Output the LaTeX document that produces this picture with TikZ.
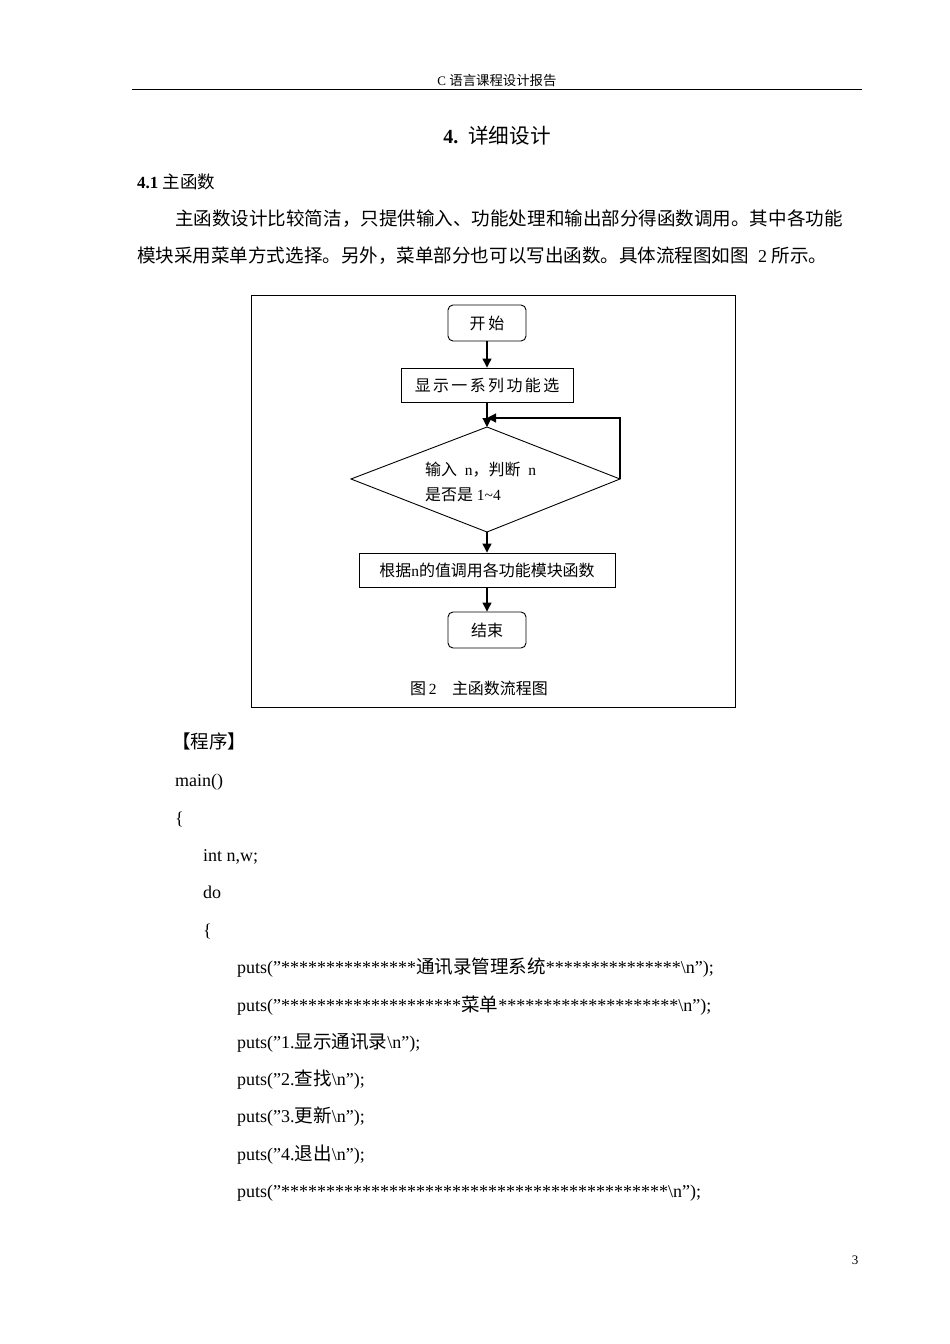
\documentclass[tikz,border=0pt]{standalone}
\usepackage{fontspec}
\setmainfont{Liberation Serif}
\newfontfamily\zhf{Noto Sans CJK SC}[Scale=1.03]
\newfontfamily\zhs{Noto Sans CJK SC}[Scale=1.03,LetterSpace=15]
\newcommand{\zh}[1]{{\zhf #1}}
\newcommand{\bs}{\textbackslash}
\newcommand{\qq}{\symbol{34}}
\usetikzlibrary{arrows.meta}
\begin{document}
\begin{tikzpicture}[x=1pt,y=-1pt,
  txt/.style={anchor=base west,inner sep=0pt,font=\fontsize{18}{20}\selectfont},
  fc/.style={draw,line width=0.9pt,minimum height=36pt,inner sep=0pt,font=\fontsize{15.5}{18}\selectfont},
  rbox/.style={fc,rounded corners=5pt,minimum width=78pt},
  arr/.style={-{Triangle[length=9pt,width=9pt]},line width=1.2pt}]
\useasboundingbox (0,0) rectangle (950,1344);
\fill[white] (0,0) rectangle (950,1344);
% header
\node[anchor=base,inner sep=0pt,font=\fontsize{13}{15}\selectfont] (hdr) at (497,85) {C \zh{语言课程设计报告}};
\draw[line width=0.8pt] (132,89) -- (862,89);
\node[anchor=base,inner sep=0pt,font=\fontsize{20}{24}\selectfont] (ttl) at (497,143) {\textbf{4.}\ \ \zh{详细设计}};
\node[txt,font=\fontsize{17}{20}\selectfont] (s41) at (137,188) {\textbf{4.1} \zh{主函数}};
\node[txt] (p1) at (175,225) {\zh{主函数设计比较简洁，只提供输入、功能处理和输出部分得函数调用。其中各功能}};
\node[txt] (p2) at (137,262) {\zh{模块采用菜单方式选择。另外，菜单部分也可以写出函数。具体流程图如图}\ \ 2 \zh{所示。}};
% figure
\draw[line width=0.8pt] (251,295) rectangle (735,707);
\node[rbox] (start) at (487,323) {\zh{开}\,\zh{始}};
\node[fc,minimum width=172pt,minimum height=34pt] (show) at (487,385) {{\zhs 显示一系列功能选}};
\draw[line width=0.9pt] (351,479) -- (487,427) -- (620,479) -- (487,532) -- cycle;
\node[anchor=base west,inner sep=0pt,font=\fontsize{15.5}{18}\selectfont] (dt1) at (425,475) {\zh{输入}\ \ n\zh{，判断}\ \ n};
\node[anchor=base west,inner sep=0pt,font=\fontsize{15.5}{18}\selectfont] (dt2) at (425,500) {\zh{是否是} 1\textasciitilde4};
\coordinate (dtop) at (487,427);
\coordinate (dright) at (620,479);
\coordinate (dbot) at (487,532);
\coordinate (lp1) at (620,418);
\coordinate (lp2) at (487,418);
\node[fc,minimum width=256pt,minimum height=34pt] (call) at (487,570) {\zh{根据}n\zh{的值调用各功能模块函数}};
\node[rbox] (end) at (487,630) {\zh{结束}};
\draw[arr] (start) -- (show);
\draw[arr] (show) -- (dtop);
\draw[arr] (dright) -- (lp1) -- (lp2);
\draw[arr] (dbot) -- (call);
\draw[arr] (call) -- (end);
\node[anchor=base,inner sep=0pt,font=\fontsize{15.5}{18}\selectfont] (cap) at (479,694) {\zh{图}\,2\quad\zh{主函数流程图}};
% code
\node[txt] (prog) at (172,748) {\zh{【程序】}};
\node[txt] (c1) at (175,786) {main()};
\node[txt] (c2) at (175,824) {\{};
\node[txt] (c3) at (203,861) {int n,w;};
\node[txt] (c4) at (203,898) {do};
\node[txt] (c5) at (203,936) {\{};
\node[txt] (c6) at (237,973) {puts(\qq***************\zh{通讯录管理系统}***************\bs n\qq);};
\node[txt] (c7) at (237,1011) {puts(\qq********************\zh{菜单}********************\bs n\qq);};
\node[txt] (c8) at (237,1048) {puts(\qq1.\zh{显示通讯录}\bs n\qq);};
\node[txt] (c9) at (237,1085) {puts(\qq2.\zh{查找}\bs n\qq);};
\node[txt] (c10) at (237,1122) {puts(\qq3.\zh{更新}\bs n\qq);};
\node[txt] (c11) at (237,1160) {puts(\qq4.\zh{退出}\bs n\qq);};
\node[txt] (c12) at (237,1197) {puts(\qq*******************************************\bs n\qq);};
\node[anchor=base,inner sep=0pt,font=\fontsize{13}{15}\selectfont] (pg) at (855,1264) {3};
\end{tikzpicture}
\end{document}
